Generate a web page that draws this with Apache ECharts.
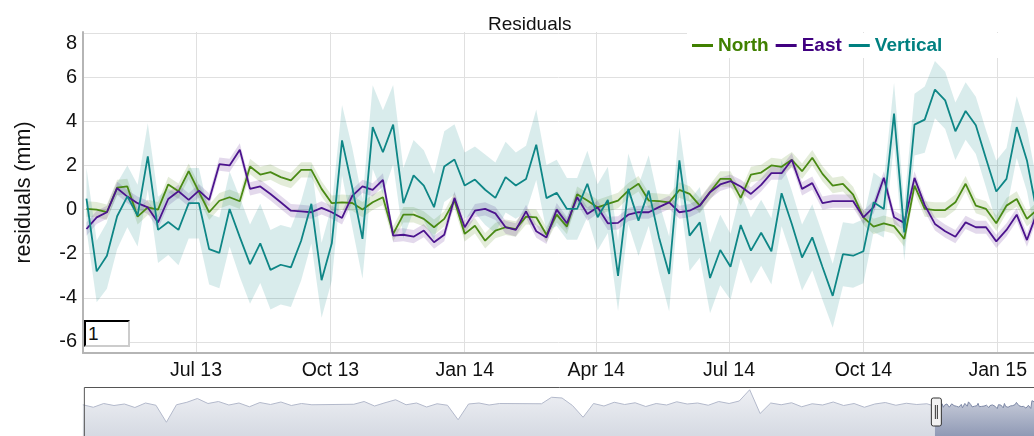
<!DOCTYPE html>
<html lang="en">
<head>
<meta charset="UTF-8">
<script src="https://cdn.jsdelivr.net/npm/echarts@6/dist/echarts.min.js"></script>
<style>
  html, body { margin: 0; padding: 0; background: #fff; }
  #wrap { position: relative; width: 1034px; height: 436px; overflow: hidden; }
  #chart { width: 1034px; height: 436px; }
  #roller {
    position: absolute; left: 84px; top: 320px; width: 46px; height: 27px;
    box-sizing: border-box; border: 2px inset #ccc; border-top-color: #555; border-left-color: #555;
    font: 19px "Liberation Sans", Arial, sans-serif; padding: 0 2px; color: #111; background: #fff;
    z-index: 5;
  }
</style>
</head>
<body>
<div id="wrap">
  <div id="chart"></div>
  <input id="roller" type="text" value="1">
</div>
<script>
// weekly solutions, first one on 17 Apr 2013
const firstSample = [2013, 3, 17];
const sampleCount = 94;

const north = [
  0.03, 0.0, -0.12, 1.0, 1.05, -0.32, 0.1, 0.0, 1.14, 0.83, 1.74, 0.8, -0.12, 0.4,
  0.56, 0.38, 1.95, 1.59, 1.7, 1.47, 1.32, 1.8, 1.8, 0.94, 0.29, 0.33, 0.3,
  0.0, 0.33, 0.56, -1.1, -0.23, -0.23, -0.42, -0.8, -0.42, 0.41, -1.1, -0.73, -1.41,
  -0.95, -0.8, -0.88, -0.32, -0.35, -1.14, -0.23, -0.77, 0.7, 0.41, 0.1, 0.26, 0.41,
  0.86, 1.17, 0.41, 0.38, 0.33, 0.89, 0.71, 0.18, 0.79, 1.39, 1.39, 0.53, 1.59, 1.68,
  2.0, 1.94, 2.26, 1.74, 2.35, 1.62, 1.09, 1.17, 0.68, -0.35, -0.77, -0.62, -0.75,
  -1.33, 1.09, 0.03, -0.02, -0.02, 0.33, 1.17, 0.18, 0.03, -0.62, 0.18, 0.48, -0.42, 0.0
];
const east = [
  -0.88, -0.35, -0.12, 0.97, 0.59, 0.29, 0.1, -0.58, 0.48, 0.83, 0.44, 0.86, 0.44, 2.06,
  2.0, 2.71, 0.94, 1.05, 0.71, 0.33, -0.05, -0.08, -0.12, 0.08, -0.12, -0.38, 0.62,
  1.05, 0.89, 1.35, -1.18, -1.14, -1.23, -0.95, -1.48, -1.14, 0.53, -0.8, -0.05, 0.03,
  -0.17, -0.8, -0.92, -0.08, -0.98, -1.26, 0.0, -0.62, 0.56, -0.2, 0.11, -0.62, -0.6,
  -0.23, -0.12, -0.12, 0.11, 0.33, -0.12, -0.05, 0.18, 0.79, 1.14, 1.29, 1.05, 0.71, 1.12,
  1.65, 1.65, 2.26, 0.94, 1.2, 0.29, 0.38, 0.38, 0.38, -0.35, 0.11, 1.44, -0.35,
  -0.6, 1.44, 0.2, -0.65, -0.98, -1.23, -0.58, -0.8, -0.8, -1.44, -0.92, -0.23, -1.38, -0.1
];
const vertical = [
  0.5, -2.8, -2.09, -0.3, 0.6, -0.27, 2.41, -0.92, -0.56, -0.92, 0.29, 0.29, -1.79, -1.96,
  0.03, -1.25, -2.47, -1.53, -2.73, -2.5, -2.62, -1.41, 0.26, -3.2, -1.53, 3.14, 1.0,
  -1.33, 3.74, 2.6, 3.85, 0.29, 1.55, 1.09, 0.11, 1.95, 2.27, 1.09, 1.36, 0.9,
  0.53, 1.47, 1.09, 1.39, 2.94, 0.52, 0.76, 0.03, 0.03, 1.17, -0.35, 0.44, -3.0,
  0.94, -0.5, 0.86, -1.25, -2.92, 2.23, -1.18, -0.58, -3.1, -1.83, -2.59, -0.7, -1.86, -1.05,
  -1.89, 0.74, -0.65, -2.17, -1.26, -2.6, -3.91, -2.02, -2.09, -1.89, 0.33, 0.03, 4.35,
  -1.03, 3.85, 4.08, 5.44, 4.95, 3.55, 4.47, 3.82, 2.3, 0.82, 1.39, 3.74, 2.23, -0.2
];
// error-bar half widths
const northSigma = 0.35;
const eastSigma = 0.3;
const verticalSigma = [
  1.4, 1.4, 1.5, 1.5, 1.4, 1.4, 1.5, 1.5, 1.5, 1.6, 1.6, 1.6, 1.6, 1.6,
  1.7, 1.8, 1.8, 1.8, 1.8, 1.8, 1.8, 1.8, 1.8, 1.7, 1.7, 1.6, 1.8,
  1.8, 1.9, 1.9, 1.8, 1.6, 1.6, 1.6, 1.5, 1.6, 1.6, 1.5, 1.5, 1.6,
  1.6, 1.6, 1.5, 1.5, 1.6, 1.5, 1.5, 1.4, 1.4, 1.5, 1.5, 1.5, 1.6,
  1.6, 1.6, 1.6, 1.6, 1.7, 1.5, 1.6, 1.6, 1.6, 1.6, 1.5, 1.5, 1.5, 1.5,
  1.5, 1.5, 1.5, 1.5, 1.5, 1.5, 1.45, 1.45, 1.45, 1.45, 1.35, 1.3, 1.4,
  1.3, 1.4, 1.5, 1.3, 1.3, 1.3, 1.3, 1.3, 1.3, 1.4, 1.4, 1.4, 1.4, 1.4
];

const xTickDates = ['2013-07-01', '2013-10-01', '2014-01-01', '2014-04-01', '2014-07-01', '2014-10-01', '2015-01-01'];
const xTickLabels = ['Jul 13', 'Oct 13', 'Jan 14', 'Apr 14', 'Jul 14', 'Oct 14', 'Jan 15'];
const yTicks = [-6, -4, -2, 0, 2, 4, 6, 8];

// range selector: coarse reading of the mini plot before the zoom window (one value every two months from Sep 1999)
const overviewFirst = [1999, 8, 1];
const overviewBefore = [
  0.5, -0.5, 1.0, 0.2, 0.8, -0.6, 1.2, 0.3, -6.5, 0.5, 1.5, 3.0, 1.0, 1.8, 0.4, 1.2,
  -0.3, 1.4, 0.6, 1.6, 0.2, 1.0, 0.5, null, null, null, 0.7, 1.8, 0.0, 1.3, 2.5, 0.5,
  1.2, -0.4, 0.9, 0.3, -5.5, 0.8, 1.2, 0.4, 1.0, null, null, null, 0.9, 3.5, 3.2, 0.2,
  -4.5, 1.0, 0.0, 1.5, 0.6, 1.3, -0.2, 1.0, 0.4, 1.7, 0.8, 1.2, 0.3, 1.8, 1.0, 2.0,
  6.5, -3.0, 1.2, 0.5, 1.3, -0.3, 0.9, 0.4, 1.6, 0.2, 1.0, -0.5, 0.8, 1.4, 0.3, 1.1,
  0.6, 0.9
];

function day(y, m, d, h) { return new Date(y, m, d, h || 0).getTime(); }
function parseDay(s) { const p = s.split('-').map(Number); return day(p[0], p[1] - 1, p[2]); }

const viewStart = day(2013, 3, 14, 15);
const viewEnd = day(2015, 0, 25, 20);
const overviewStart = day(1999, 8, 2);

const sampleDates = [];
for (let i = 0; i < sampleCount; i++) sampleDates.push(day(firstSample[0], firstSample[1], firstSample[2] + 7 * i));
const tickTimes = xTickDates.map(parseDay);

const font = '"Liberation Sans", Arial, Helvetica, sans-serif';
const colors = { North: '#408000', East: '#400080', Vertical: '#008080' };
const lineColors = { North: '#4a8a14', East: '#4c148e', Vertical: '#0e8686' };
const bands = { North: 'rgba(64,128,0,0.15)', East: 'rgba(64,0,128,0.15)', Vertical: 'rgba(0,128,128,0.15)' };

// error band drawn as one polygon through the axis scales
function bandSeries(name, vals, sig) {
  const s = i => (Array.isArray(sig) ? sig[i] : sig);
  return {
    name: name + ' band', type: 'custom', silent: true, z: 1,
    encode: { x: 0, y: 1 },
    data: [[sampleDates[0], vals[0]]],
    renderItem: (params, api) => {
      const upper = vals.map((v, i) => api.coord([sampleDates[i], v + s(i)]));
      const lower = vals.map((v, i) => api.coord([sampleDates[i], v - s(i)])).reverse();
      const cs = params.coordSys;
      return {
        type: 'group',
        clipPath: { type: 'rect', shape: { x: cs.x, y: cs.y, width: cs.width, height: cs.height } },
        children: [{ type: 'polygon', shape: { points: upper.concat(lower) }, style: { fill: bands[name] } }]
      };
    }
  };
}
function lineSeries(name, vals) {
  return {
    name: name, type: 'line', symbol: 'none', silent: true, z: 2,
    itemStyle: { color: colors[name] }, lineStyle: { color: lineColors[name], width: 1.8 },
    data: vals.map((v, i) => [sampleDates[i], v])
  };
}

// mini plot: dygraphs shows the mean of the series
const combined = north.map((v, i) => (v + east[i] + vertical[i]) / 3);
const overviewOld = overviewBefore.map((v, j) => [day(overviewFirst[0], overviewFirst[1] + 2 * j, overviewFirst[2]), v]);
overviewOld.push([sampleDates[0], combined[0]]);
const overviewNew = combined.map((v, i) => [sampleDates[i], v]);

const chart = echarts.init(document.getElementById('chart'), null, { renderer: 'canvas' });

const option = {
  animation: false,
  textStyle: { fontFamily: font },
  title: {
    text: 'Residuals', left: 483, top: 10,
    textStyle: { fontFamily: font, fontSize: 19, fontWeight: 'normal', color: '#111' }
  },
  legend: {
    left: 687, top: 33, width: 300, padding: [3, 95, 3, 5], itemGap: 7,
    backgroundColor: '#fff', icon: 'rect', itemWidth: 21, itemHeight: 3,
    selectedMode: false,
    textStyle: { fontFamily: font, fontSize: 19, fontWeight: 'bold' },
    data: ['North', 'East', 'Vertical'].map(n => ({ name: n, textStyle: { color: colors[n] } }))
  },
  grid: [
    { left: 83, right: 0, top: 32, height: 321, outerBoundsMode: 'none' },
    { left: 83, right: -12, top: 387, height: 50, outerBoundsMode: 'none' }
  ],
  xAxis: [
    {
      type: 'value', gridIndex: 0, min: viewStart, max: viewEnd,
      axisLine: { show: true, onZero: false, lineStyle: { color: '#b5b5b5', width: 2 } },
      axisTick: { show: false, customValues: tickTimes },
      splitLine: { show: true, lineStyle: { color: '#e0e0e0', width: 1 } },
      axisLabel: {
        customValues: tickTimes, margin: 8, color: '#111', fontSize: 19.5, fontFamily: font,
        formatter: v => xTickLabels[tickTimes.indexOf(v)] || ''
      }
    },
    { type: 'value', gridIndex: 1, min: overviewStart, max: viewEnd, show: false },
    { type: 'value', gridIndex: 1, min: overviewStart, max: viewEnd, show: false }
  ],
  yAxis: [
    {
      type: 'value', gridIndex: 0, min: -6.5, max: 8.05,
      name: 'residuals (mm)', nameLocation: 'middle', nameGap: 48, nameRotate: 90,
      nameTextStyle: { fontSize: 21.5, color: '#111', fontFamily: font },
      axisLine: { show: true, onZero: false, lineStyle: { color: '#b5b5b5', width: 2 } },
      axisTick: { show: false, customValues: yTicks },
      splitLine: { show: true, lineStyle: { color: '#e0e0e0', width: 1 } },
      axisLabel: {
        customValues: yTicks, margin: 6, color: '#111', fontSize: 20, fontFamily: font,
        formatter: v => (v === 8 ? '{top|8}' : String(v)),
        rich: { top: { padding: [20, 0, 0, 0], fontSize: 20, color: '#111', fontFamily: font } }
      }
    },
    { type: 'value', gridIndex: 1, min: -12.4, max: 7.6, show: false }
  ],
  dataZoom: [{
    type: 'slider', xAxisIndex: 1, filterMode: 'none', zoomLock: true,
    left: 83, right: -12, top: 387, height: 50,
    startValue: viewStart, endValue: viewEnd,
    showDataShadow: false, showDetail: false, brushSelect: false, moveHandleSize: 0,
    backgroundColor: 'rgba(0,0,0,0)', fillerColor: 'rgba(0,0,0,0)',
    borderColor: '#555', borderRadius: 0,
    handleIcon: 'path://M2,0 h6 a2,2 0 0 1 2,2 v24 a2,2 0 0 1 -2,2 h-6 a2,2 0 0 1 -2,-2 v-24 a2,2 0 0 1 2,-2 z M4,7 v14 M6,7 v14',
    handleSize: 28,
    handleStyle: { color: '#f2f2f2', borderColor: '#333', borderWidth: 1 },
    z: 10
  }],
  series: [
    bandSeries('North', north, northSigma),
    lineSeries('North', north),
    bandSeries('East', east, eastSigma),
    lineSeries('East', east),
    bandSeries('Vertical', vertical, verticalSigma),
    lineSeries('Vertical', vertical),
    {
      name: 'overview-old', type: 'line', xAxisIndex: 2, yAxisIndex: 1, symbol: 'none', silent: true,
      connectNulls: true,
      lineStyle: { color: '#b3b9cb', width: 1 },
      areaStyle: {
        origin: 'start', opacity: 1,
        color: new echarts.graphic.LinearGradient(0, 0, 0, 1, [
          { offset: 0, color: '#eef0f4' }, { offset: 1, color: '#d5d9e2' }
        ])
      },
      data: overviewOld
    },
    {
      name: 'overview-new', type: 'line', xAxisIndex: 2, yAxisIndex: 1, symbol: 'none', silent: true,
      lineStyle: { color: '#7d88a6', width: 1 },
      areaStyle: {
        origin: 'start', opacity: 1,
        color: new echarts.graphic.LinearGradient(0, 0, 0, 1, [
          { offset: 0, color: '#c5cad8' }, { offset: 1, color: '#8e98b4' }
        ])
      },
      data: overviewNew
    }
  ]
};

chart.setOption(option);
</script>
</body>
</html>
